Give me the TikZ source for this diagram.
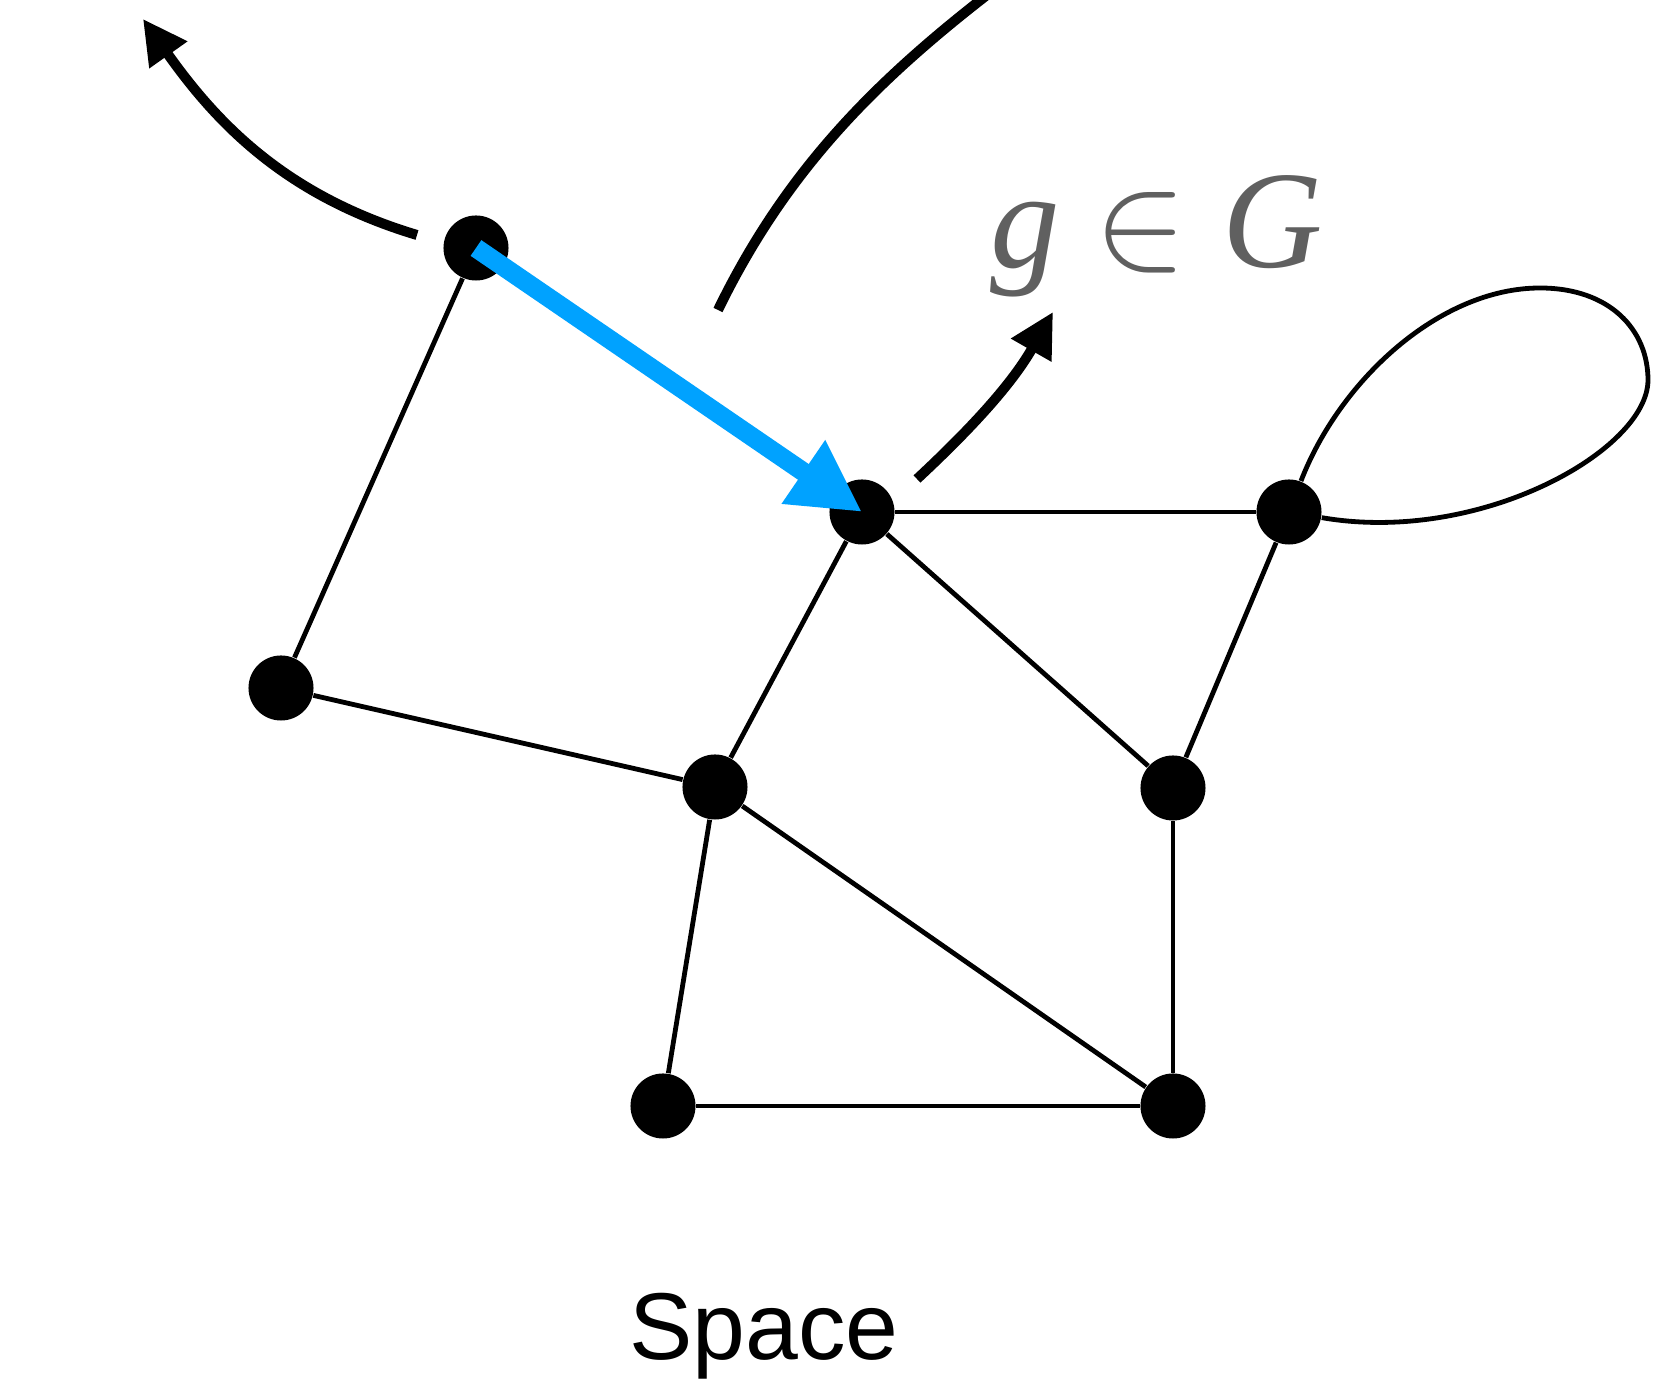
\RequirePackage{fix-cm}
\documentclass[tikz,border=0pt]{standalone}
\usepackage{fontspec}
\usepackage{xcolor}
\usepackage{tikz}
\usetikzlibrary{arrows.meta}
\newfontfamily\captionfont{Liberation Sans}
\newfontfamily\labelfont{Liberation Serif}
\definecolor{moveblue}{HTML}{00A2FF}
\definecolor{labelgray}{HTML}{606060}

\begin{document}
\begin{tikzpicture}[x=0.01cm, y=-0.01cm,
  vertex/.style={circle, fill=black, inner sep=0pt, minimum size=0.65cm},
  edge/.style={line width=0.048cm},
  action/.style={line width=0.1cm, -{Triangle[length=0.44cm, width=0.44cm]}},
  grouplabel/.style={inner sep=0pt, text=labelgray, font=\fontsize{39.5}{42}\selectfont}]
\fill[white] (0,0) rectangle (1665,1383);
\useasboundingbox (0,0) rectangle (1665,1383);
\node[vertex] (a) at (476,248) {};
\node[vertex] (b) at (281,688) {};
\node[vertex] (c) at (862,512) {};
\node[vertex] (d) at (1289,512) {};
\node[vertex] (e) at (715,787) {};
\node[vertex] (f) at (1173,788) {};
\node[vertex] (h) at (663,1106) {};
\node[vertex] (i) at (1173,1106) {};
\draw[edge] (a) -- (b);
\draw[edge] (b) -- (e);
\draw[edge] (e) -- (c);
\draw[edge] (c) -- (d);
\draw[edge] (c) -- (f);
\draw[edge] (d) -- (f);
\draw[edge] (f) -- (i);
\draw[edge] (e) -- (h);
\draw[edge] (e) -- (i);
\draw[edge] (h) -- (i);
\draw[edge] (d) .. controls (1340,380) and (1440,288) .. (1540,288)
  .. controls (1610,288) and (1648,330) .. (1648,380)
  .. controls (1648,450) and (1480,545) .. (d);
\coordinate (lefttail) at (417,235);
\coordinate (lefthead) at (143,19);
\draw[action] (lefttail) .. controls (287,196) and (218,125) .. (lefthead);
\coordinate (righttail) at (917,479);
\coordinate (righthead) at (1053,312);
\draw[action] (righttail) .. controls (975,425) and (1013,382) .. (righthead);
\begin{scope}
\clip (0,0) rectangle (1665,1383);
\coordinate (arctail) at (718,310);
\coordinate (arcend) at (1000,-15);
\draw[line width=0.1cm] (arctail) .. controls (788,166) and (881,76) .. (arcend);
\end{scope}
\draw[line width=0.19cm, moveblue, -{Triangle[length=0.71cm, width=0.72cm]}] (a.center) -- (c.center);
\node[grouplabel, anchor=base west] (elem) at (990,268) {\labelfont\itshape g};
\node[grouplabel, anchor=base] (member) at (1141,268) {$\in$};
\node[grouplabel, anchor=base west] (group) at (1222,268) {\labelfont\itshape G};
\node[anchor=base, inner sep=0pt] (space) at (764,1360) {\fontsize{27}{30}\selectfont\captionfont Space};
\end{tikzpicture}
\end{document}
